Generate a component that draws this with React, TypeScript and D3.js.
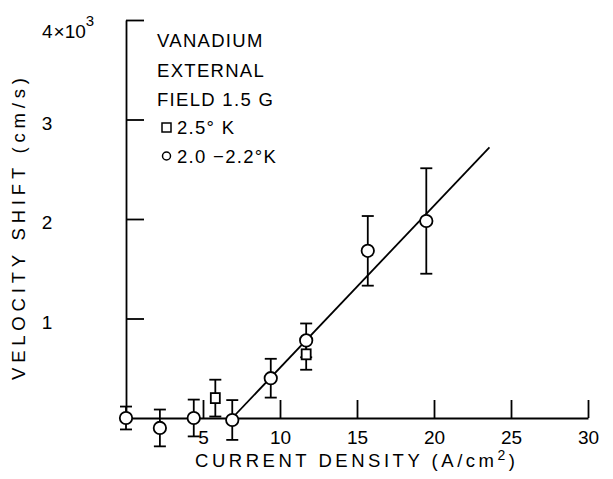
import React, { useRef, useEffect } from "react";
import * as d3 from "d3";

// circles: 2.0 - 2.2 K
const circleX = [0, 2.2, 4.4, 6.9, 9.4, 11.7, 15.7, 19.5];
const circleY = [0, -100, 0, -20, 400, 780, 1680, 1980];
const circleErr = [115, 185, 185, 200, 195, 170, 350, 530];

// squares: 2.5 K
const squareX = [5.8, 11.7];
const squareY = [200, 640];
const squareErr = [185, 155];

// fitted straight line
const fitX = [6.9, 23.6];
const fitY = [0, 2720];

const xTicks = [5, 10, 15, 20, 25, 30];
const yTicks = [1000, 2000, 3000, 4000];
const yTickLabels = ["1", "2", "3", "4"];
const legendLines = ["VANADIUM", "EXTERNAL", "FIELD 1.5 G"];

const FONT = "'Liberation Sans', Arial, sans-serif";

const App = () => {
  const ref = useRef<SVGSVGElement>(null);
  const width = 613;
  const height = 479;

  useEffect(() => {
    const svg = d3.select(ref.current);
    svg.selectAll("*").remove();

    const x = d3.scaleLinear().domain([0, 30]).range([126, 588]);
    const y = d3.scaleLinear().domain([0, 4000]).range([418, 20]);

    svg.append("rect").attr("width", width).attr("height", height).attr("fill", "#fff");

    // x axis, ticks pointing up
    const xAxis = svg
      .append("g")
      .attr("transform", `translate(0,${y(0)})`)
      .call(
        d3.axisBottom(x).tickValues(xTicks).tickSizeInner(-18).tickSizeOuter(0).tickPadding(13).tickFormat(d3.format("d"))
      );
    xAxis.selectAll("path, line").attr("stroke", "#000").attr("stroke-width", 1.8);
    xAxis.selectAll("text").attr("font-family", FONT).attr("font-size", 19).attr("fill", "#000");

    // y axis, ticks pointing right
    const yAxis = svg
      .append("g")
      .attr("transform", `translate(${x(0)},0)`)
      .call(d3.axisLeft(y).tickValues(yTicks).tickSizeInner(-18).tickSizeOuter(0).tickFormat(() => ""));
    yAxis.selectAll("path, line").attr("stroke", "#000").attr("stroke-width", 1.8);

    const yLab = svg
      .append("g")
      .attr("font-family", FONT)
      .attr("font-size", 19)
      .selectAll("text")
      .data(yTicks)
      .enter()
      .append("text")
      .attr("x", 47)
      .attr("y", (d, i) => y(d) + (i === 3 ? 18 : 10))
      .attr("text-anchor", (d, i) => (i === 3 ? "start" : "middle"))
      .attr("dx", (d, i) => (i === 3 ? -5 : 0))
      .text((d, i) => yTickLabels[i]);
    yLab
      .filter((d, i) => i === 3)
      .call((t) => {
        t.append("tspan").attr("dx", 1).text("×10");
        t.append("tspan").attr("dy", -12).attr("font-size", 15).text("3");
      });

    // axis titles
    const xt = svg
      .append("text")
      .attr("x", 195)
      .attr("y", 467)
      .attr("font-family", FONT)
      .attr("font-size", 18.5)
      .attr("textLength", 320)
      .attr("lengthAdjust", "spacing")
      .text("CURRENT DENSITY (A/cm");
    xt.append("tspan").attr("dy", -7).attr("font-size", 14).text("2");
    xt.append("tspan").attr("dy", 7).text(")");

    svg
      .append("text")
      .attr("transform", "translate(25,380) rotate(-90)")
      .attr("font-family", FONT)
      .attr("font-size", 18.5)
      .attr("textLength", 302)
      .attr("lengthAdjust", "spacing")
      .text("VELOCITY  SHIFT (cm/s)");

    // fit line
    const line = d3
      .line<number>()
      .x((d, i) => x(fitX[i]))
      .y((d) => y(d));
    svg
      .append("path")
      .attr("d", line(fitY))
      .attr("fill", "none")
      .attr("stroke", "#000")
      .attr("stroke-width", 1.8);

    const drawErr = (xs: number[], ys: number[], es: number[]) => {
      const g = svg.append("g").attr("stroke", "#000").attr("stroke-width", 1.8);
      xs.forEach((xv, i) => {
        const cx = x(xv);
        const top = y(ys[i] + es[i]);
        const bot = y(ys[i] - es[i]);
        g.append("line").attr("x1", cx).attr("x2", cx).attr("y1", top).attr("y2", bot);
        g.append("line").attr("x1", cx - 6).attr("x2", cx + 6).attr("y1", top).attr("y2", top);
        g.append("line").attr("x1", cx - 6).attr("x2", cx + 6).attr("y1", bot).attr("y2", bot);
      });
    };
    drawErr(circleX, circleY, circleErr);
    drawErr(squareX, squareY, squareErr);

    svg
      .append("g")
      .selectAll("circle")
      .data(circleY)
      .enter()
      .append("circle")
      .attr("cx", (d, i) => x(circleX[i]))
      .attr("cy", (d) => y(d))
      .attr("r", 6.2)
      .attr("fill", "#fff")
      .attr("stroke", "#000")
      .attr("stroke-width", 1.8);

    svg
      .append("g")
      .selectAll("rect")
      .data(squareY)
      .enter()
      .append("rect")
      .attr("x", (d, i) => x(squareX[i]) - 4.5)
      .attr("y", (d) => y(d) - 5)
      .attr("width", 9)
      .attr("height", 10)
      .attr("fill", "#fff")
      .attr("stroke", "#000")
      .attr("stroke-width", 1.8);

    // legend
    const leg = svg.append("g").attr("font-family", FONT).attr("font-size", 18.5).attr("letter-spacing", 1.3);
    leg
      .selectAll("text")
      .data(legendLines)
      .enter()
      .append("text")
      .attr("x", 157)
      .attr("y", (d, i) => 47 + i * 29.5)
      .text((d) => d);
    leg
      .append("rect")
      .attr("x", 162)
      .attr("y", 123)
      .attr("width", 9)
      .attr("height", 9)
      .attr("fill", "none")
      .attr("stroke", "#000")
      .attr("stroke-width", 1.5);
    leg.append("text").attr("x", 177).attr("y", 134).text("2.5° K");
    leg
      .append("circle")
      .attr("cx", 166.5)
      .attr("cy", 156)
      .attr("r", 4)
      .attr("fill", "none")
      .attr("stroke", "#000")
      .attr("stroke-width", 1.5);
    leg.append("text").attr("x", 177).attr("y", 163).text("2.0 −2.2°K");
  }, []);

  return (
    <svg
      ref={ref}
      width={width}
      height={height}
      style={{ position: "absolute", left: 0, top: 0, display: "block" }}
    />
  );
};

export default App;
